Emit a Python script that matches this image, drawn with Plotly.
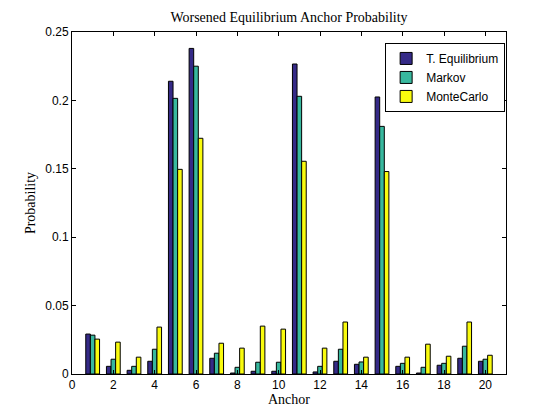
import plotly.graph_objects as go

anchors = list(range(1, 21))
t_equilibrium = [0.0292, 0.0056, 0.0027, 0.0093, 0.2140, 0.2380, 0.0115, 0.0007, 0.0020, 0.0020,
                 0.2266, 0.0015, 0.0093, 0.0071, 0.2025, 0.0056, 0.0007, 0.0064, 0.0115, 0.0093]
markov = [0.0284, 0.0108, 0.0056, 0.0181, 0.2015, 0.2250, 0.0152, 0.0049, 0.0086, 0.0086,
          0.2030, 0.0056, 0.0181, 0.0088, 0.1810, 0.0078, 0.0049, 0.0078, 0.0203, 0.0108]
monte_carlo = [0.0255, 0.0233, 0.0123, 0.0343, 0.1496, 0.1723, 0.0225, 0.0189, 0.0350, 0.0328,
               0.1555, 0.0189, 0.0380, 0.0123, 0.1480, 0.0123, 0.0218, 0.0130, 0.0380, 0.0137]

x_ticks = list(range(0, 21, 2))
y_ticks = [0, 0.05, 0.1, 0.15, 0.2, 0.25]
y_labels = ["0", "0.05", "0.1", "0.15", "0.2", "0.25"]

fig = go.Figure()
for name, vals, col in [("T. Equilibrium", t_equilibrium, "#352A87"),
                        ("Markov", markov, "#38B89E"),
                        ("MonteCarlo", monte_carlo, "#F9FB0E")]:
    fig.add_trace(go.Bar(x=anchors, y=vals, name=name, marker_color=col,
                         marker_line=dict(color="black", width=1)))

axis_common = dict(showline=True, linecolor="black", linewidth=1, mirror="ticks",
                   ticks="inside", ticklen=4, tickcolor="black", showgrid=False,
                   zeroline=False, tickfont=dict(family="Liberation Sans", size=12, color="black"))

serif = dict(family="Liberation Serif", size=14, color="black")

fig.update_layout(
    width=560, height=420,
    paper_bgcolor="white", plot_bgcolor="white",
    # page has an 8px body margin, so the figure is offset
    margin=dict(l=64, r=62, t=24, b=54),
    barmode="group", bargap=0.333, bargroupgap=0,
    title=dict(text="Worsened Equilibrium Anchor Probability", x=0.5, xref="paper",
               y=0.978, yref="container", yanchor="middle", font=serif),
    xaxis=dict(range=[0, 21], tickvals=x_ticks,
               title=dict(text="Anchor", standoff=2, font=serif),
               **axis_common),
    yaxis=dict(range=[0, 0.25], tickvals=y_ticks, ticktext=y_labels,
               title=dict(text="Probability", standoff=6, font=serif),
               **axis_common),
    legend=dict(x=0.998, y=0.968, xanchor="right", yanchor="top",
                bordercolor="black", borderwidth=1, bgcolor="white",
                font=dict(family="Liberation Sans", size=12, color="black"),
                tracegroupgap=0, itemwidth=30),
)

fig.write_html("out.html")
